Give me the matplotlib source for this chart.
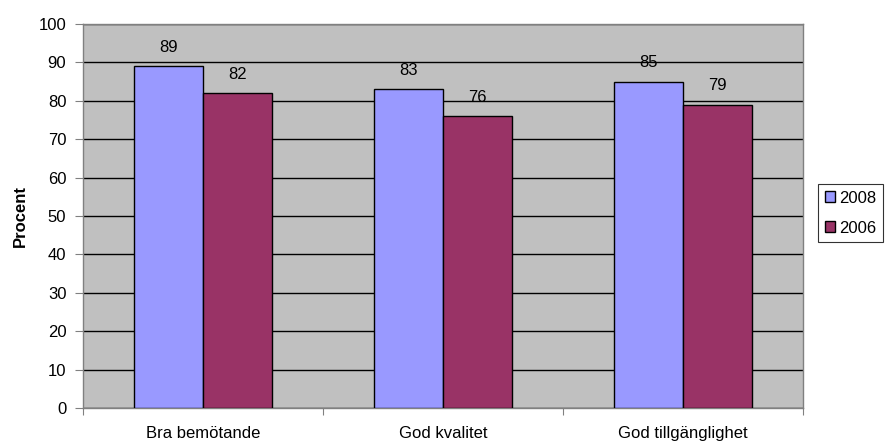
import numpy as np
import matplotlib.pyplot as plt

plt.rcParams['font.family'] = ['Liberation Sans', 'DejaVu Sans']

kategorier = ['Bra bemötande', 'God kvalitet', 'God tillgänglighet']
varden_2008 = [89, 83, 85]
varden_2006 = [82, 76, 79]
serier = ['2008', '2006']
farger = ['#9999FF', '#993366']

fig = plt.figure(figsize=(8.86, 4.44), dpi=100)
ax = fig.add_axes([83 / 886, 36 / 444, 720 / 886, 384 / 444])
ax.set_facecolor('#C0C0C0')

x = np.arange(len(kategorier))
bredd = 1 / 3.5
for i, (vals, namn, farg) in enumerate(zip([varden_2008, varden_2006], serier, farger)):
    pos = x + (i - 0.5) * bredd
    ax.bar(pos, vals, bredd, color=farg, edgecolor='black', linewidth=1, label=namn, zorder=3)
    for p, v in zip(pos, vals):
        ax.text(p, v + 3.0, str(v), ha='center', va='bottom', fontsize=12, zorder=4)

ax.set_xlim(-0.5, len(kategorier) - 0.5)
ax.set_ylim(0, 100)
ax.set_yticks(range(0, 101, 10))
ax.yaxis.grid(True, color='black', linewidth=1, zorder=0)
ax.set_axisbelow(True)

ax.set_xticks(np.arange(-0.5, len(kategorier), 1))
ax.set_xticklabels([])
ax.set_xticks(x, minor=True)
ax.set_xticklabels(kategorier, minor=True, fontsize=12)
ax.tick_params(axis='x', which='minor', length=0, pad=13)
ax.tick_params(axis='x', which='major', length=5, color='#808080')
ax.tick_params(axis='y', length=6, color='#808080', labelsize=12, pad=6)

for s in ax.spines.values():
    s.set_color('#808080')
    s.set_linewidth(1)

ax.set_ylabel('Procent', fontsize=12, fontweight='bold', labelpad=8)

leg = ax.legend(loc='upper left', bbox_to_anchor=(818 / 720 - 83 / 720, 1 - 160 / 384),
                frameon=True, fancybox=False, edgecolor='black', fontsize=12,
                handlelength=0.6, handleheight=0.6, handletextpad=0.25,
                borderpad=0.4, labelspacing=0.9, borderaxespad=0)
leg.get_frame().set_linewidth(0.8)

fig.savefig('out.png', dpi=100)
